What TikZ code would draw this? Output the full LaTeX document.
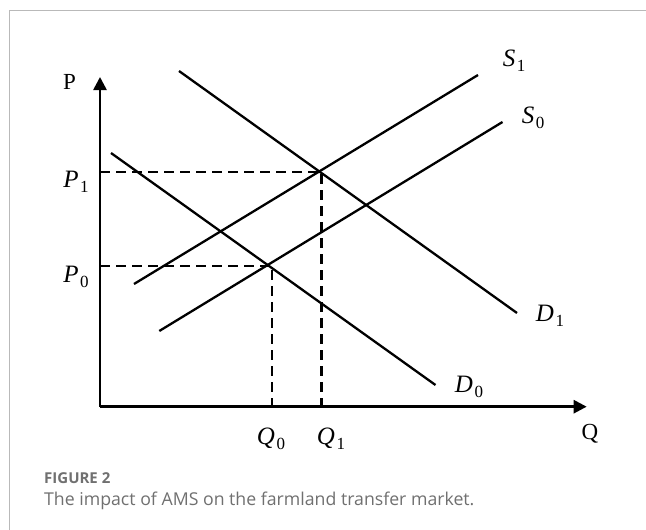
\documentclass[tikz,border=0pt]{standalone}
\usepackage{fontspec}
\setmainfont{Liberation Serif}
\newfontfamily\capfont{Open Sans}
\usetikzlibrary{arrows.meta}
\definecolor{capgray}{RGB}{112,112,112}
\definecolor{framegray}{RGB}{185,185,185}
\newcommand{\sublab}[2]{{\itshape #1}\kern1.5pt\raisebox{-5.5pt}{\fontsize{17}{17}\selectfont #2}}
\tikzset{
  curve/.style={line width=2.3pt},
  axisline/.style={line width=2.6pt,-{Triangle[length=13pt,width=13pt]}},
  guide/.style={line width=2.3pt,dash pattern=on 10pt off 6pt},
  mlabel/.style={inner sep=0pt,font=\fontsize{25}{29}\selectfont},
  alabel/.style={inner sep=0pt,font=\fontsize{23}{27}\selectfont},
}
\begin{document}
\begin{tikzpicture}[x=1pt,y=-1pt]
\useasboundingbox (0,0) rectangle (646,530);
\fill[white] (0,0) rectangle (646,530);
% frame
\draw[framegray,line width=1.4pt] (9.3,535) -- (9.3,10.7) -- (650,10.7);
% key points
\coordinate (O) at (100,406.7);
\coordinate (Ytop) at (100,77);
\coordinate (Xend) at (586.7,406.7);
\coordinate (E0) at (271.7,266);
\coordinate (E1) at (321.5,171.7);
\coordinate (P0a) at (100,266);
\coordinate (P1a) at (100,171.7);
\coordinate (Q0a) at (271.7,406.7);
\coordinate (Q1a) at (321.5,406.7);
\coordinate (D1a) at (179,71);
\coordinate (D1b) at (517,313);
\coordinate (D0a) at (111,153);
\coordinate (D0b) at (435.5,385);
\coordinate (S1a) at (134,284);
\coordinate (S1b) at (478,75);
\coordinate (S0a) at (159.3,331);
\coordinate (S0b) at (502.5,122);
% guides
\draw[guide] (P1a) -- (E1) -- (Q1a);
\draw[guide] (P0a) -- (E0) -- (Q0a);
% curves
\draw[curve] (D1a) -- (D1b);
\draw[curve] (D0a) -- (D0b);
\draw[curve] (S1a) -- (S1b);
\draw[curve] (S0a) -- (S0b);
% axes
\draw[axisline] (O) -- (Ytop);
\draw[axisline] (O) -- (Xend);
% labels
\node[alabel] (lP) at (69.5,81.5) {P};
\node[alabel] (lQ) at (590,434) {Q};
\node[mlabel,anchor=base] (lP1) at (76,187) {\sublab{P}{1}};
\node[mlabel,anchor=base] (lP0) at (76,282) {\sublab{P}{0}};
\node[mlabel,anchor=base] (lQ0) at (271,444) {\sublab{Q}{0}};
\node[mlabel,anchor=base] (lQ1) at (331,444) {\sublab{Q}{1}};
\node[mlabel,anchor=base] (lD0) at (469,392) {\sublab{D}{0}};
\node[mlabel,anchor=base] (lD1) at (550,321) {\sublab{D}{1}};
\node[mlabel,anchor=base] (lS1) at (514,66) {\sublab{S}{1}};
\node[mlabel,anchor=base] (lS0) at (533,123) {\sublab{S}{0}};
% caption
\node[anchor=base west,inner sep=0pt,text=capgray,font=\capfont\bfseries\fontsize{15}{18}\selectfont] (fig) at (44,483) {FIGURE 2};
\node[anchor=base west,inner sep=0pt,text=capgray,font=\capfont\fontsize{17.7}{21}\selectfont] (cap) at (44,505) {The impact of AMS on the farmland transfer market.};
\end{tikzpicture}
\end{document}
